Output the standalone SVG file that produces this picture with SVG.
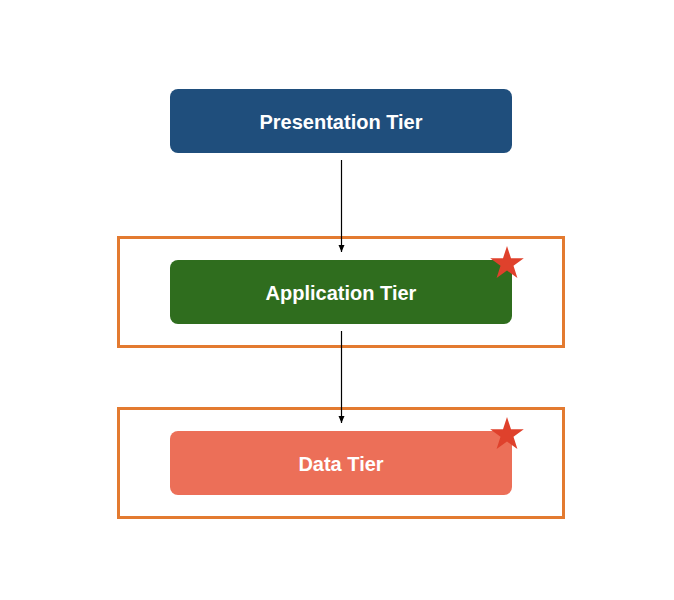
<svg xmlns="http://www.w3.org/2000/svg" width="674" height="600" viewBox="0 0 674 600">
<defs>
<style>
.lbl{font-family:"Liberation Sans",Arial,Helvetica,sans-serif;font-size:20px;font-weight:bold;fill:#ffffff;text-anchor:middle}
.frame{fill:none;stroke:#E37A30;stroke-width:3}
.star{fill:#DF412C}
.conn{stroke:#000000;stroke-width:1.2;fill:none}
</style>
<marker id="arr" markerWidth="8" markerHeight="8" refX="7" refY="4" orient="auto" markerUnits="userSpaceOnUse">
<path d="M0,1 L7,4 L0,7 Z" fill="#000000"/>
</marker>
<polygon id="starShape" points="0,-17.7 4,-5.5 16.8,-5.5 6.5,2.1 10.4,14.3 0,6.8 -10.4,14.3 -6.5,2.1 -16.8,-5.5 -4,-5.5"/>
</defs>
<rect width="674" height="600" fill="#ffffff"/>
<g id="frame-application"><rect class="frame" x="118.5" y="237.5" width="445" height="109"/></g>
<g id="frame-data"><rect class="frame" x="118.5" y="408.5" width="445" height="109"/></g>
<g id="presentation"><rect x="170" y="89" width="342" height="64" rx="8" fill="#1F4E7C"/><text class="lbl" x="341" y="129">Presentation Tier</text></g>
<g id="application"><rect x="170" y="260" width="342" height="64" rx="8" fill="#2F6D1E"/><text class="lbl" x="341" y="300">Application Tier</text></g>
<g id="data"><rect x="170" y="431" width="342" height="64" rx="8" fill="#EC6F58"/><text class="lbl" x="341" y="471">Data Tier</text></g>
<g id="star-application"><use href="#starShape" class="star" x="507" y="263.7"/></g>
<g id="star-data"><use href="#starShape" class="star" x="507" y="434.7"/></g>
<g id="connectors">
<line class="conn" x1="341.5" y1="160" x2="341.5" y2="252" marker-end="url(#arr)"/>
<line class="conn" x1="341.5" y1="331" x2="341.5" y2="423" marker-end="url(#arr)"/>
</g>
</svg>
